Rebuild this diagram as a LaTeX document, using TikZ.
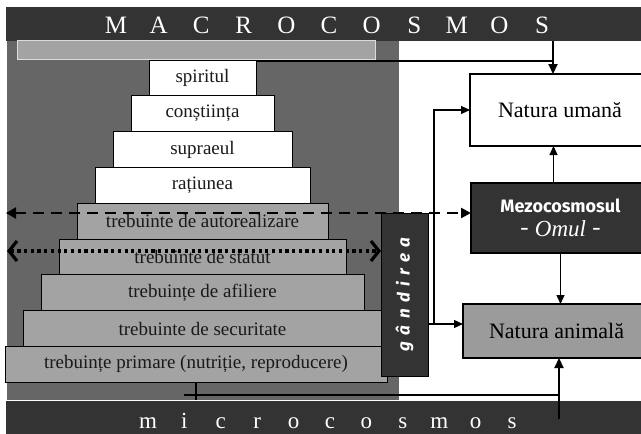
\documentclass[tikz,border=0pt]{standalone}
\usepackage{fontspec}
\setmainfont{Liberation Serif}
\newfontfamily\sansbold{Fira Sans}
\newfontfamily\thinkfont[LetterSpace=38]{Fira Sans}
\usetikzlibrary{arrows.meta,positioning,calc}
\definecolor{Coal}{HTML}{333333}
\definecolor{Slate}{HTML}{666666}
\definecolor{Shade}{HTML}{A3A3A3}
\definecolor{Frost}{HTML}{DCDCDC}
\newcommand\tierfont{\fontsize{19}{22}\selectfont}
\newcommand\boxfont{\fontsize{22}{25}\selectfont}
\newcommand\macrofont{\fontsize{25}{28}\selectfont}
\newcommand\microfont{\fontsize{23}{26}\selectfont}
\tikzset{
  tier/.style={draw=black,line width=1pt,fill=white,inner sep=0pt,outer sep=0pt,minimum height=35.8pt,font=\tierfont,text=black!90},
  low/.style={fill=Shade},
  nature/.style={draw=black,line width=1.2pt,inner sep=0pt,outer sep=0pt,align=center,font=\boxfont},
  think/.style={fill=Coal,draw=black,line width=0.8pt,rotate=90,inner sep=0pt,outer sep=0pt,text=white,font=\thinkfont\fontsize{17}{20}\selectfont\bfseries\itshape},
  bartext/.style={text=white,inner sep=0pt,anchor=base},
  arr/.style={-{Triangle[length=9pt,width=8pt]},line width=1.2pt,draw=black},
  bigarr/.style={-{Triangle[length=10pt,width=9pt]},line width=2.2pt,draw=black},
  heavy/.style={line width=2.2pt,draw=black},
  dasharr/.style={{Triangle[length=10pt,width=11pt]}-{Triangle[length=10pt,width=10pt]},line width=2.3pt,dash pattern=on 11pt off 7pt},
  dotarr/.style={{Straight Barb[length=8pt,width=20pt]}-{Straight Barb[length=8pt,width=20pt]},line width=3.2pt,dash pattern=on 3.2pt off 3.5pt},
}
\begin{document}
\begin{tikzpicture}[x=1pt,y=-1pt,line join=miter]
\useasboundingbox (0,0) rectangle (641,434);
% bars and panel
\fill[Coal] (6,7) rectangle (641,41);
\fill[Coal] (6,401) rectangle (641,434);
\fill[Slate] (7,41) rectangle (399,400);
\filldraw[fill=Shade,draw=Frost,line width=1.5pt] (17.5,40.5) rectangle (375.5,59.5);
\foreach \c [count=\i from 0] in {M,A,C,R,O,C,O,S,M,O,S}
  \node[bartext,font=\macrofont] (macro\i) at ({116+42.6*\i},33) {\c};
\foreach \c [count=\i from 0] in {m,i,c,r,o,c,o,s,m,o,s}
  \node[bartext,font=\microfont] (micro\i) at ({148+36.4*\i},428) {\c};

% pyramid
\node[tier,minimum width=107pt] (spiritul) at (202.5,77.9) {spiritul};
\node[tier,minimum width=143pt] (constiinta) at (202.5,113.7) {conștiința};
\node[tier,minimum width=179pt] (supraeul) at (202.5,149.5) {supraeul};
\node[tier,minimum width=215pt] (ratiunea) at (202.5,185.3) {rațiunea};
\node[tier,low,minimum width=251pt] (autoreal) at (202.5,221.1) {trebuinte de autorealizare};
\node[tier,low,minimum width=287pt] (statut) at (202.5,256.9) {trebuinte de statut};
\node[tier,low,minimum width=323pt] (afiliere) at (202.5,292.7) {trebuințe de afiliere};
\node[tier,low,minimum width=359pt] (securitate) at (202.5,328.5) {trebuinte de securitate};
\node[tier,low,minimum width=382pt] (primare) at (196,364.3) {trebuințe primare (nutriție, reproducere)};

\node[think,minimum width=163pt,minimum height=47pt] (gandirea) at (404.5,294.5) {gândirea};

% right column
\node[nature,fill=white,minimum width=180pt,minimum height=72pt] (umana) at (560,110) {Natura umană};
\node[nature,fill=Coal,text=white,minimum width=179pt,minimum height=70pt] (mezo) at (560.5,218)
  {{\sansbold\bfseries\fontsize{18}{22}\selectfont Mezocosmosul}\\[-1pt]{\fontsize{23}{25}\selectfont{\sansbold -} \textit{Omul} {\sansbold -}}};
\node[nature,fill=Shade!95!black,minimum width=187pt,minimum height=54pt] (animala) at (556.5,331) {Natura animală};

% connectors
\coordinate (macroOut) at (553,41);
\coordinate (microOut) at (559,419);
\coordinate (floor) at (184,395);
\coordinate (split) at (434,324);
\coordinate (dashL) at (6,213);
\coordinate (dotL) at (7,251);
\draw[heavy] ([yshift=-1pt]spiritul.north east) -- ([yshift=-1pt]spiritul.north east -| macroOut);
\draw[bigarr] (macroOut) -- (macroOut |- umana.north);
\draw[heavy] (primare.south) -- ++(0,18);
\draw[heavy] (floor) -- (floor -| microOut);
\draw[bigarr] (microOut) -- (microOut |- animala.south);
\draw[line width=1.2pt] (gandirea.south |- split) -- (split);
\draw[arr] (split) |- (umana.west);
\draw[arr] (split) -- (split -| animala.west);
\draw[arr] ([xshift=-7pt]mezo.north) -- ([xshift=-7pt]mezo.north |- umana.south);
\draw[arr] (mezo.south) -- (mezo.south |- animala.north);
\draw[dasharr] (dashL) -- (dashL -| mezo.west);
\draw[dotarr] (dotL) -- (dotL -| gandirea.north);
\end{tikzpicture}
\end{document}
